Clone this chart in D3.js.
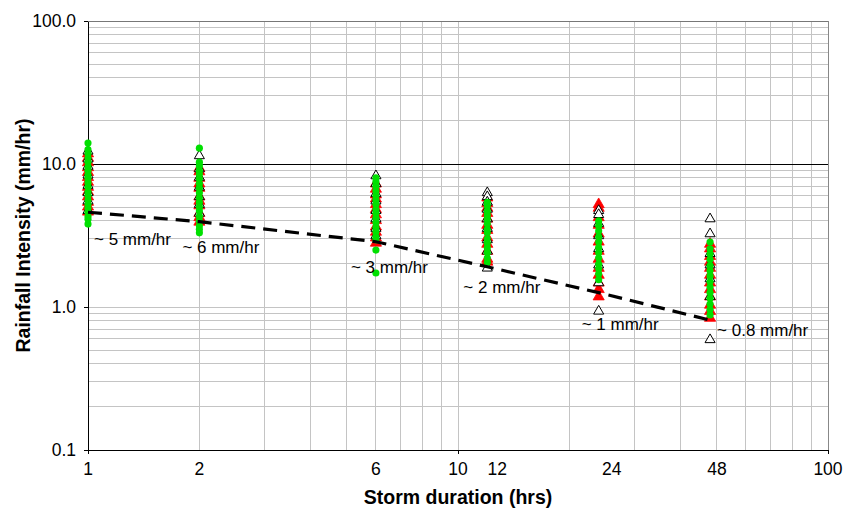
<!DOCTYPE html>
<html>
<head>
<meta charset="utf-8">
<script src="https://cdn.jsdelivr.net/npm/d3@7"></script>
<style>
  body { margin: 0; background: #fff; }
  svg { display: block; font-family: "Liberation Sans", Arial, sans-serif; }
</style>
</head>
<body>
<div id="plot-container"></div>
<script>
// Storm durations (hrs) where the intensities were measured
const durations = [1, 2, 6, 12, 24, 48];

// Red filled triangles, one list per duration (mm/hr)
const redTriangles = [
  [12.0, 11.2, 10.4, 9.6, 8.9, 8.2, 7.6, 7.0, 6.5, 6.0, 5.5, 5.1, 4.7],
  [9.5, 9.0, 8.1, 7.4, 6.9, 6.0, 5.6, 5.2, 4.6, 4.3, 4.0],
  [7.4, 6.8, 6.2, 5.8, 5.3, 4.9, 4.5, 4.1, 3.7, 3.4, 3.1, 2.85],
  [5.9, 5.4, 5.0, 4.6, 4.2, 3.8, 3.5, 3.1, 2.8, 2.5, 2.2, 2.1],
  [5.3, 5.0, 4.3, 3.8, 3.3, 2.9, 2.5, 2.2, 1.9, 1.7, 1.5, 1.35, 1.2],
  [2.8, 2.6, 2.3, 2.1, 1.9, 1.7, 1.5, 1.35, 1.2, 1.05, 0.95, 0.85]
];

// Open (white) triangles with black outline
const openTriangles = [
  [12.5, 11.0, 9.8, 8.5, 7.2, 6.4, 5.6, 4.8],
  [11.6, 9.4, 8.2, 7.0, 6.0, 5.3, 4.6],
  [8.4, 7.4, 6.3, 5.6, 4.8, 4.2, 3.6, 3.2],
  [6.4, 6.0, 5.5, 4.9, 4.2, 3.6, 3.0, 2.5, 1.9],
  [4.8, 4.5, 3.9, 3.2, 2.6, 2.0, 1.5, 0.95],
  [4.2, 3.3, 2.4, 2.0, 1.6, 1.2, 0.6]
];

// Green filled circles
const greenCircles = [
  [14.0, 12.6, 11.8, 11.0, 10.3, 9.6, 9.0, 8.4, 7.9, 7.4, 6.9, 6.4, 6.0, 5.6, 5.2, 4.9, 4.6, 4.3, 4.1, 3.8],
  [12.9, 10.3, 9.7, 9.0, 8.5, 7.9, 7.3, 6.8, 6.3, 5.8, 5.4, 5.0, 4.7, 4.3, 4.0, 3.7, 3.5, 3.3],
  [8.0, 7.5, 7.0, 6.5, 6.0, 5.6, 5.2, 4.8, 4.5, 4.2, 3.9, 3.6, 3.35, 3.1, 2.95, 2.5, 1.73],
  [5.4, 5.1, 4.7, 4.4, 4.1, 3.8, 3.5, 3.3, 3.0, 2.8, 2.6, 2.4, 2.2, 2.05],
  [4.0, 3.7, 3.4, 3.1, 2.85, 2.6, 2.4, 2.2, 2.0, 1.85, 1.7, 1.55],
  [2.85, 2.55, 2.35, 2.15, 1.95, 1.8, 1.65, 1.5, 1.38, 1.26, 1.15, 1.05, 0.96, 0.88]
];

// Dashed threshold line and its notes
const trendValues = [4.6, 3.95, 2.86, 1.91, 1.26, 0.81];
const noteLabels = ["~ 5 mm/hr", "~ 6 mm/hr", "~ 3 mm/hr", "~ 2 mm/hr", "~ 1 mm/hr", "~ 0.8 mm/hr"];

// Tick labels
const xTickLabels = [1, 2, 6, 10, 12, 24, 48, 100];
const yTickValues = [0.1, 1, 10, 100];

const width = 855;
const height = 512;
const margin = { top: 21, right: 27, bottom: 62, left: 88 };

const svg = d3.select("#plot-container")
  .append("svg")
  .attr("width", width)
  .attr("height", height);

const x = d3.scaleLog().domain([1, 100]).range([margin.left, width - margin.right]);
const y = d3.scaleLog().domain([0.1, 100]).range([height - margin.bottom, margin.top]);

// minor grid values for each decade
const minorX = [];
[1, 10].forEach(d => { for (let k = 2; k <= 9; k++) minorX.push(d * k); });
minorX.push(10);
const minorY = [];
[0.1, 1, 10].forEach(d => { for (let k = 2; k <= 9; k++) minorY.push(d * k); });
minorY.push(1);

const grid = svg.append("g").attr("shape-rendering", "crispEdges");

grid.selectAll("line.vx")
  .data(minorX)
  .enter()
  .append("line")
  .attr("x1", d => x(d)).attr("x2", d => x(d))
  .attr("y1", y(0.1)).attr("y2", y(100))
  .attr("stroke", "#c4c4c4");

grid.selectAll("line.hy")
  .data(minorY)
  .enter()
  .append("line")
  .attr("x1", x(1)).attr("x2", x(100))
  .attr("y1", d => y(d)).attr("y2", d => y(d))
  .attr("stroke", "#c4c4c4");

// major line at 10 and plot frame
grid.append("line")
  .attr("x1", x(1)).attr("x2", x(100))
  .attr("y1", y(10)).attr("y2", y(10))
  .attr("stroke", "#000");
grid.append("line")
  .attr("x1", x(1)).attr("x2", x(100))
  .attr("y1", y(100)).attr("y2", y(100))
  .attr("stroke", "#777");
grid.append("line")
  .attr("x1", x(100)).attr("x2", x(100))
  .attr("y1", y(0.1)).attr("y2", y(100))
  .attr("stroke", "#888");

// Axes
const yAxis = svg.append("g")
  .attr("transform", `translate(${margin.left},0)`)
  .call(d3.axisLeft(y).tickValues(yTickValues).tickFormat(d3.format(".1f")).tickSize(4).tickPadding(8).tickSizeOuter(0));
yAxis.selectAll("text").attr("font-size", "17.5px").attr("fill", "#000").attr("font-family", "Liberation Sans, Arial, sans-serif");

const xAxis = svg.append("g")
  .attr("transform", `translate(0,${height - margin.bottom})`)
  .call(d3.axisBottom(x).tickValues([1, 10, 100]).tickFormat("").tickSize(4).tickSizeOuter(0));

[yAxis, xAxis].forEach(a => {
  a.select(".domain").attr("stroke", "#000").attr("shape-rendering", "crispEdges");
  a.selectAll(".tick line").attr("stroke", "#000").attr("shape-rendering", "crispEdges");
});

// x labels: a few of them sit a little to the right in the original
const labelShift = { 12: 10, 24: 13, 48: 7 };
svg.append("g")
  .selectAll("text")
  .data(xTickLabels)
  .enter()
  .append("text")
  .attr("x", d => x(d) + (labelShift[d] || 0))
  .attr("y", height - margin.bottom + 25)
  .attr("text-anchor", "middle")
  .attr("font-size", "17.5px")
  .text(d => d);

// Axis titles
svg.append("text")
  .attr("x", 458)
  .attr("y", 504)
  .attr("text-anchor", "middle")
  .attr("font-size", "19.5px")
  .attr("font-weight", "bold")
  .text("Storm duration (hrs)");

svg.append("text")
  .attr("transform", `translate(30,${(margin.top + height - margin.bottom) / 2}) rotate(-90)`)
  .attr("text-anchor", "middle")
  .attr("font-size", "19.5px")
  .attr("font-weight", "bold")
  .text("Rainfall Intensity (mm/hr)");

// flatten a series into {d, v} points
function points(series) {
  const out = [];
  series.forEach((vals, i) => vals.forEach(v => out.push({ d: durations[i], v: v })));
  return out;
}

const redTri = d3.symbol().type(d3.symbolTriangle).size(54);
const openTri = d3.symbol().type(d3.symbolTriangle).size(44);
const dot = d3.symbol().type(d3.symbolCircle).size(40);

svg.append("g")
  .selectAll("path")
  .data(points(redTriangles))
  .enter()
  .append("path")
  .attr("d", redTri)
  .attr("transform", p => `translate(${x(p.d)},${y(p.v) + 1})`)
  .attr("fill", "#ff0000")
  .attr("stroke", "#ff0000")
  .attr("stroke-width", 0.8);

svg.append("g")
  .selectAll("path")
  .data(points(openTriangles))
  .enter()
  .append("path")
  .attr("d", openTri)
  .attr("transform", p => `translate(${x(p.d)},${y(p.v) + 1})`)
  .attr("fill", "#fff")
  .attr("stroke", "#000")
  .attr("stroke-width", 1);

svg.append("g")
  .selectAll("path")
  .data(points(greenCircles))
  .enter()
  .append("path")
  .attr("d", dot)
  .attr("transform", p => `translate(${x(p.d)},${y(p.v)})`)
  .attr("fill", "#00e000");

// Dashed line through the lower bound values
const line = d3.line()
  .x((v, i) => x(durations[i]))
  .y(v => y(v));

svg.append("path")
  .datum(trendValues)
  .attr("d", line)
  .attr("fill", "none")
  .attr("stroke", "#000")
  .attr("stroke-width", 3.2)
  .attr("stroke-dasharray", "14,8");

// Notes under the dashed line
const noteOffsets = [[6, 33], [-17, 31], [-25, 31], [-24, 26], [-17, 37], [7, 16]];
svg.append("g")
  .selectAll("text")
  .data(noteLabels)
  .enter()
  .append("text")
  .attr("x", (t, i) => x(durations[i]) + noteOffsets[i][0])
  .attr("y", (t, i) => y(trendValues[i]) + noteOffsets[i][1])
  .attr("font-size", "17px")
  .text(t => t);
</script>
</body>
</html>
